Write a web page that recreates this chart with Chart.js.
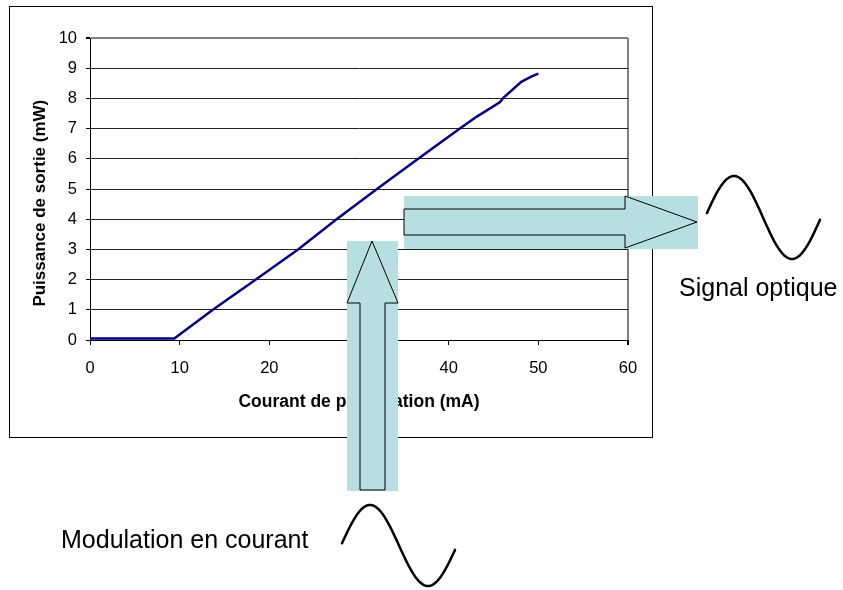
<!DOCTYPE html>
<html>
<head>
<meta charset="utf-8">
<script src="https://cdn.jsdelivr.net/npm/chart.js@4"></script>
<style>
  html, body { margin: 0; padding: 0; background: #fff; }
  #wrap { position: relative; width: 843px; height: 590px; overflow: hidden; }
  #frame { position: absolute; left: 9px; top: 6px; width: 644px; height: 432px; border: 1px solid #000; box-sizing: border-box; }
  #myChart { position: absolute; left: 0; top: 0; }
  #overlay { position: absolute; left: 0; top: 0; pointer-events: none; }
  #overlay text { font-family: "Liberation Sans", Arial, sans-serif; font-size: 25px; fill: #000; }
</style>
</head>
<body>
<div id="wrap">
  <div id="frame"></div>
  <canvas id="myChart" width="843" height="590"></canvas>
  <svg id="overlay" width="843" height="590">
    <!-- signal out -->
    <rect x="404" y="196" width="294" height="53" fill="#b7dfe1"/>
    <polygon points="404,209 625,209 625,196 697,222 625,248 625,235 404,235" fill="#b7dfe1" stroke="#000" stroke-width="1"/>
    <!-- modulation in -->
    <rect x="347" y="241" width="51" height="250" fill="#b7dfe1"/>
    <polygon points="372,241 398,303 385,303 385,490 360,490 360,303 347,303" fill="#b7dfe1" stroke="#000" stroke-width="1"/>
    <path id="waveOut" fill="none" stroke="#000" stroke-width="2.5" stroke-linecap="round" stroke-linejoin="round"/>
    <path id="waveIn" fill="none" stroke="#000" stroke-width="2.5" stroke-linecap="round" stroke-linejoin="round"/>
    <text x="679" y="296">Signal optique</text>
    <text x="61" y="548">Modulation en courant</text>
  </svg>
</div>
<script>
// courant de polarisation (mA) / puissance (mW)
const current = [0, 9.4, 13.7, 18.5, 23.2, 27.5, 32.0, 36.6, 41.25, 43.1, 45.7, 46.1, 48.1, 49.2, 50];
const power = [0.05, 0.05, 1, 2, 3, 4, 5, 6, 7, 7.39, 7.87, 8.02, 8.55, 8.72, 8.82];
const xTicks = [0, 10, 20, 30, 40, 50, 60];
const yTicks = [0, 1, 2, 3, 4, 5, 6, 7, 8, 9, 10];

const font = '"Liberation Sans", Arial, sans-serif';

// little sine sketches next to the arrows
function wave(id, xStart, xEnd, xPeak, half, cy, amp) {
  let d = "";
  for (let x = xStart; x <= xEnd; x += 1) {
    const y = cy - amp * Math.cos(Math.PI * (x - xPeak) / half);
    d += (d ? " L" : "M") + x + "," + y.toFixed(1);
  }
  document.getElementById(id).setAttribute("d", d);
}
wave("waveOut", 707, 820, 734, 58, 217.5, 41.5);
wave("waveIn", 342, 455, 370, 58, 545.5, 40.5);

const chart1 = document.getElementById("myChart");
new Chart(chart1, {
  type: "line",
  data: {
    datasets: [
      {
        data: current.map((c, i) => ({ x: c, y: power[i] })),
        borderColor: "#000080",
        borderWidth: 2.5,
        pointRadius: 0,
        tension: 0,
        fill: false,
      },
    ],
  },
  options: {
    responsive: false,
    animation: false,
    layout: { padding: { left: 0, top: 38, right: 215, bottom: 0 } },
    plugins: {
      legend: { display: false },
      tooltip: { enabled: false },
    },
    scales: {
      x: {
        type: "linear",
        min: 0,
        max: 60,
        afterBuildTicks: (axis) => { axis.ticks = xTicks.map((v) => ({ value: v })); },
        afterFit: (axis) => { axis.height = 250; },
        ticks: { color: "#000", padding: 14, font: { family: font, size: 16.5 } },
        grid: {
          color: (ctx) => (ctx.index === xTicks.length - 1 ? "#808080" : "rgba(0,0,0,0)"),
          lineWidth: (ctx) => (ctx.index === xTicks.length - 1 ? 2 : 1),
          tickColor: "#000",
          tickLength: 5,
        },
        border: { color: "#000", width: 1 },
        title: {
          display: true,
          text: "Courant de polarisation (mA)",
          color: "#000",
          font: { family: font, size: 17.5, weight: "bold" },
          padding: { top: 0, bottom: 177 },
        },
      },
      y: {
        min: 0,
        max: 10,
        afterBuildTicks: (axis) => { axis.ticks = yTicks.map((v) => ({ value: v })); },
        afterFit: (axis) => { axis.width = 90; },
        ticks: { color: "#000", padding: 9, font: { family: font, size: 16.5 } },
        grid: {
          color: (ctx) => (ctx.tick && ctx.tick.value === 10 ? "#808080" : "#222"),
          lineWidth: (ctx) => (ctx.tick && ctx.tick.value === 10 ? 2 : 1),
          tickColor: "#000",
          tickLength: 4,
        },
        border: { color: "#000", width: 1 },
        title: {
          display: true,
          text: "Puissance de sortie (mW)\u00a0\u00a0\u00a0\u00a0\u00a0\u00a0",
          color: "#000",
          font: { family: font, size: 17, weight: "bold" },
          padding: { top: 30, bottom: 0 },
        },
      },
    },
  },
});
</script>
</body>
</html>
